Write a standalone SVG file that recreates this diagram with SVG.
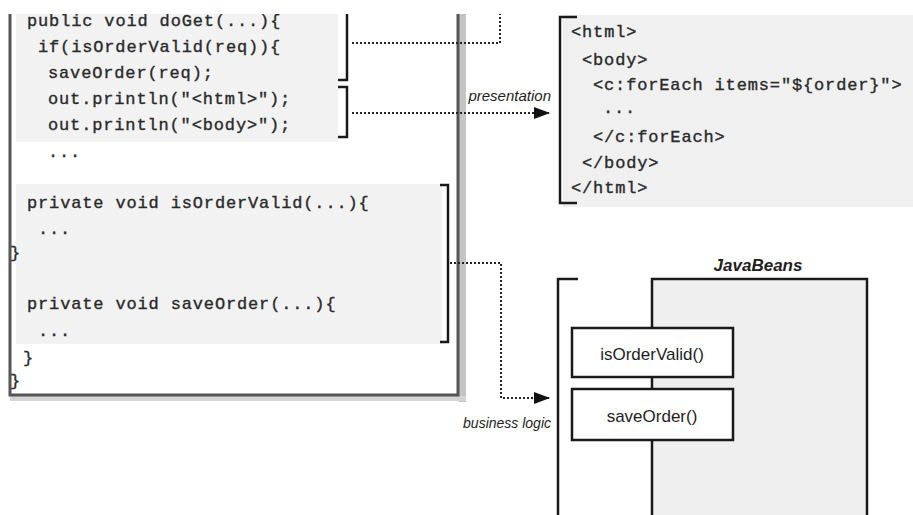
<svg xmlns="http://www.w3.org/2000/svg" width="913" height="515" viewBox="0 0 913 515">
<style>
.code{font-family:"Liberation Mono","DejaVu Sans Mono",monospace;font-size:17px;letter-spacing:0.85px;fill:#2a2a2a;stroke:#2a2a2a;stroke-width:0.35}
.lbl{font-family:"Liberation Sans",Arial,sans-serif;fill:#1e1e1e}
.br{fill:none;stroke:#1a1a1a;stroke-width:2.5}
.dot{fill:none;stroke:#222;stroke-width:2;stroke-dasharray:2 2}
.box{stroke:#1a1a1a;stroke-width:2.5}
</style>
<defs>
<marker id="arr" markerWidth="16" markerHeight="12" refX="15" refY="6" orient="auto" markerUnits="userSpaceOnUse"><path d="M0,0 L16,6 L0,12 z" fill="#111"/></marker>
</defs>
<rect width="913" height="515" fill="#ffffff"/>

<g id="servlet">
<rect x="16" y="14" width="322" height="128" fill="#f2f2f2"/>
<rect x="16" y="184" width="426" height="160" fill="#f2f2f2"/>
<rect x="459" y="14" width="7" height="388" fill="#c4c4c4"/>
<rect x="10" y="396" width="456" height="5" fill="#d4d4d4"/>
<path d="M10,14 V395 H458 V14" fill="none" stroke="#555" stroke-width="3"/>
<text class="code" x="27" y="26">public void doGet(...){</text>
<text class="code" x="38" y="52">if(isOrderValid(req)){</text>
<text class="code" x="48" y="78">saveOrder(req);</text>
<text class="code" x="48" y="104">out.println("&lt;html&gt;");</text>
<text class="code" x="48" y="130">out.println("&lt;body&gt;");</text>
<text class="code" x="48" y="157">...</text>
<text class="code" x="27" y="208">private void isOrderValid(...){</text>
<text class="code" x="38" y="234">...</text>
<text class="code" x="10" y="258">}</text>
<text class="code" x="27" y="309">private void saveOrder(...){</text>
<text class="code" x="38" y="336">...</text>
<text class="code" x="23" y="363">}</text>
<text class="code" x="10" y="386">}</text>
<path class="br" d="M338,80 H347 V14"/>
<path class="br" d="M338,87 H347 V137 H338"/>
<path class="br" d="M440,185 H448 V342 H440"/>
</g>

<g id="jsp">
<rect x="563" y="15" width="350" height="192" fill="#f0f0f0"/>
<path class="br" d="M577,17 H560 V203 H577"/>
<text class="code" x="571" y="37">&lt;html&gt;</text>
<text class="code" x="582" y="65">&lt;body&gt;</text>
<text class="code" x="593" y="90">&lt;c:forEach items="${order}"&gt;</text>
<text class="code" x="603" y="113">...</text>
<text class="code" x="593" y="142">&lt;/c:forEach&gt;</text>
<text class="code" x="582" y="168">&lt;/body&gt;</text>
<text class="code" x="571" y="193">&lt;/html&gt;</text>
</g>

<g id="javabeans">
<path class="br" d="M578,279 H558 V520"/>
<rect class="box" x="652" y="279" width="215" height="245" fill="#efefef"/>
<text class="lbl" x="758" y="271" font-size="17" font-weight="bold" font-style="italic" text-anchor="middle">JavaBeans</text>
</g>

<g id="isOrderValid">
<rect class="box" x="572" y="328" width="161" height="49" fill="#ffffff"/>
<text class="lbl" x="652" y="360" font-size="17" text-anchor="middle">isOrderValid()</text>
</g>

<g id="saveOrder">
<rect class="box" x="572" y="389" width="161" height="51" fill="#ffffff"/>
<text class="lbl" x="652" y="422" font-size="17" text-anchor="middle">saveOrder()</text>
</g>

<g id="connectors">
<path class="dot" d="M352,43 H500 V14"/>
<path class="dot" d="M352,113 H549" marker-end="url(#arr)"/>
<path class="dot" d="M450,263 H501 V398 H549" marker-end="url(#arr)"/>
<text class="lbl" x="551" y="101" font-size="15" font-style="italic" text-anchor="end">presentation</text>
<text class="lbl" x="551" y="428" font-size="14" font-style="italic" text-anchor="end">business logic</text>
</g>

<rect x="0" y="0" width="913" height="14" fill="#ffffff"/>
</svg>
